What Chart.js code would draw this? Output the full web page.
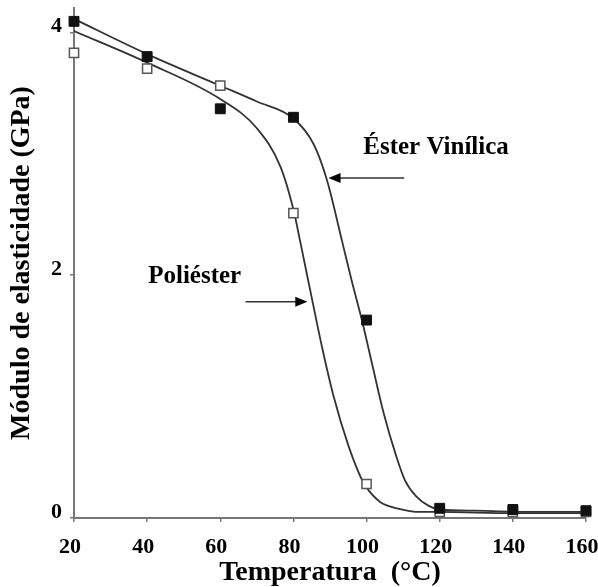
<!DOCTYPE html>
<html>
<head>
<meta charset="utf-8">
<script src="https://cdn.jsdelivr.net/npm/chart.js@4"></script>
<style>
  body { margin: 0; background: #fff; }
  canvas { display: block; }
</style>
</head>
<body>
<canvas id="chart" width="598" height="587"></canvas>
<script>
// measured points (filled = éster vinílica, open = poliéster)
const temps = [20, 40, 60, 80, 100, 120, 140, 160];
const esterPts = [4.09, 3.80, 3.37, 3.30, 1.63, 0.08, 0.07, 0.06];
const poliPts = [3.83, 3.70, 3.56, 2.51, 0.28, 0.05, 0.05, 0.05];

// fitted curves
const esterFitX = [20, 40, 60, 70, 80, 85.5, 89.2, 93.3, 95.8, 98.8, 101.5, 104.7, 108, 110.5, 113.5, 117, 120, 130, 145, 160];
const esterFitY = [4.11, 3.82, 3.56, 3.43, 3.29, 3.08, 2.78, 2.28, 1.97, 1.62, 1.27, 0.86, 0.52, 0.31, 0.18, 0.10, 0.07, 0.06, 0.05, 0.05];
const poliFitX = [20, 40, 60, 70, 76.5, 80, 81.9, 85.1, 87.8, 91, 95.1, 98.8, 100, 103.8, 108.3, 114.7, 120, 140, 160];
const poliFitY = [4.01, 3.75, 3.45, 3.21, 2.89, 2.54, 2.27, 1.80, 1.41, 1.00, 0.59, 0.31, 0.25, 0.13, 0.08, 0.05, 0.05, 0.04, 0.04];

const xTicks = [20, 40, 60, 80, 100, 120, 140, 160];
const yTicks = [0, 2, 4];

// labels with arrows: [text, textX, textY, arrowFromX, arrowToX, arrowY]
const notes = [
  ['Éster Vinílica', 119, 3.05, 110.3, 89.6, 2.80],
  ['Poliéster', 53, 1.99, 66.9, 83.8, 1.78],
];

const pts = (xs, ys) => xs.map((x, i) => ({ x: x, y: ys[i] }));

const notesPlugin = {
  id: 'notes',
  afterDatasetsDraw(chart) {
    const ctx = chart.ctx;
    const sx = chart.scales.x, sy = chart.scales.y;
    ctx.save();
    ctx.fillStyle = '#000';
    ctx.strokeStyle = '#333';
    ctx.font = 'bold 25px "Liberation Serif"';
    ctx.textAlign = 'center';
    ctx.textBaseline = 'middle';
    notes.forEach(n => {
      ctx.fillText(n[0], sx.getPixelForValue(n[1]), sy.getPixelForValue(n[2]));
      const x0 = sx.getPixelForValue(n[3]);
      const x1 = sx.getPixelForValue(n[4]);
      const y = sy.getPixelForValue(n[5]);
      const dir = x1 > x0 ? 1 : -1;
      ctx.lineWidth = 1.5;
      ctx.beginPath();
      ctx.moveTo(x0, y);
      ctx.lineTo(x1 - dir * 10, y);
      ctx.stroke();
      ctx.beginPath();
      ctx.moveTo(x1, y);
      ctx.lineTo(x1 - dir * 12, y - 5);
      ctx.lineTo(x1 - dir * 12, y + 5);
      ctx.closePath();
      ctx.fill();
    });
    ctx.restore();
  }
};

new Chart(document.getElementById('chart').getContext('2d'), {
  type: 'scatter',
  data: {
    datasets: [
      {
        label: 'Éster Vinílica',
        data: pts(temps, esterPts),
        pointStyle: 'rect',
        pointRadius: 7,
        backgroundColor: '#111',
        borderColor: '#111',
        borderWidth: 1,
        clip: false,
      },
      {
        label: 'Poliéster',
        data: pts(temps, poliPts),
        pointStyle: 'rect',
        pointRadius: 6.5,
        backgroundColor: '#fff',
        borderColor: '#555',
        borderWidth: 1.5,
        clip: false,
      },
      {
        label: 'ajuste éster',
        data: pts(esterFitX, esterFitY),
        showLine: true,
        pointRadius: 0,
        borderColor: '#333',
        borderWidth: 1.8,
        cubicInterpolationMode: 'monotone',
      },
      {
        label: 'ajuste poliéster',
        data: pts(poliFitX, poliFitY),
        showLine: true,
        pointRadius: 0,
        borderColor: '#333',
        borderWidth: 1.8,
        cubicInterpolationMode: 'monotone',
      },
    ]
  },
  options: {
    responsive: false,
    animation: false,
    layout: { padding: { top: 7, left: 0, right: 12, bottom: 0 } },
    plugins: {
      legend: { display: false },
      tooltip: { enabled: false },
    },
    scales: {
      x: {
        min: 20,
        max: 160,
        afterBuildTicks: (scale) => { scale.ticks = xTicks.map(v => ({ value: v })); },
        // fixed axis box so the plot sits where it does in the original
        afterFit: (scale) => { scale.paddingLeft = 0; scale.paddingRight = 0; scale.height = 69; },
        grid: { drawOnChartArea: false, tickLength: 4, color: '#777', lineWidth: 1.5 },
        border: { color: '#777', width: 2 },
        ticks: {
          color: '#000',
          padding: 12,
          labelOffset: -4,
          maxRotation: 0,
          font: { family: 'Liberation Serif', weight: 'bold', size: 22 },
        },
        title: {
          display: true,
          text: 'Temperatura  (°C)',
          color: '#000',
          padding: { top: 0, bottom: 0 },
          font: { family: 'Liberation Serif', weight: 'bold', size: 28, lineHeight: 1 },
        },
      },
      y: {
        min: 0,
        max: 4.2,
        afterBuildTicks: (scale) => { scale.ticks = yTicks.map(v => ({ value: v })); },
        afterFit: (scale) => { scale.paddingTop = 0; scale.paddingBottom = 0; scale.width = 74; },
        grid: { drawOnChartArea: false, tickLength: 4, color: '#777', lineWidth: 1.5 },
        border: { color: '#777', width: 2 },
        ticks: {
          color: '#000',
          padding: 8,
          labelOffset: -6,
          font: { family: 'Liberation Serif', weight: 'bold', size: 22 },
        },
        title: {
          display: true,
          text: 'Módulo de elasticidade (GPa)',
          color: '#000',
          padding: { top: 5, bottom: 0 },
          font: { family: 'Liberation Serif', weight: 'bold', size: 28 },
        },
      },
    }
  },
  plugins: [notesPlugin]
});
</script>
</body>
</html>
